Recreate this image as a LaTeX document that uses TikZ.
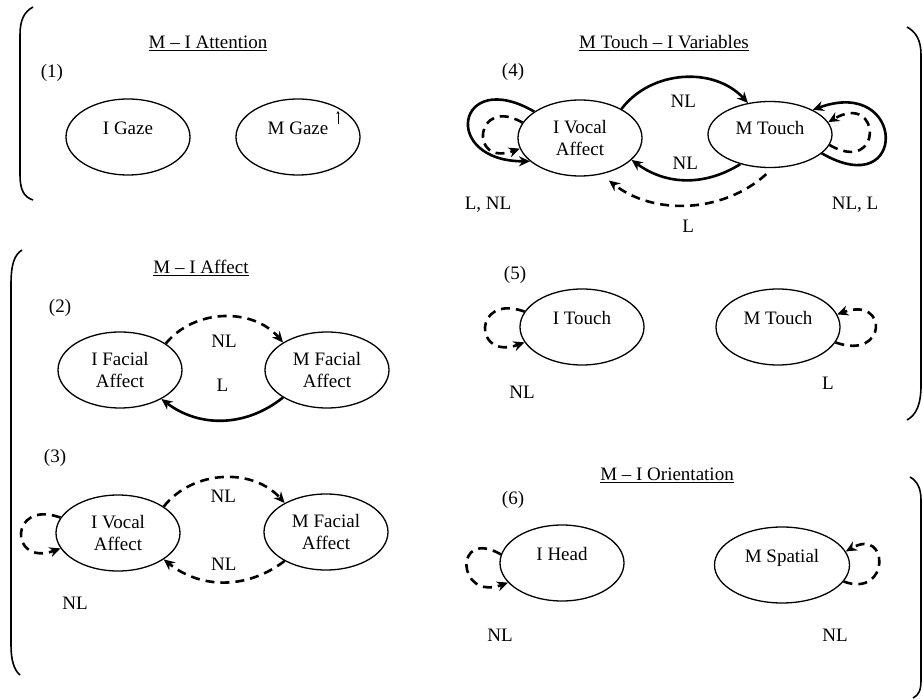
\documentclass[tikz,border=0pt]{standalone}
\usepackage{fontspec}
\setmainfont{Liberation Serif}
\usetikzlibrary{shapes.geometric,arrows.meta}

\begin{document}
\begin{tikzpicture}[x=1pt, y=1pt, font=\fontsize{19}{22}\selectfont,
        state/.style={ellipse, draw, line width=1.3pt, minimum width=124pt, minimum height=76pt, inner sep=0pt, align=center},
        one/.style={text depth=18pt},
        link/.style={line width=2.6pt, -{Stealth[length=11pt, width=10pt]}},
        dlink/.style={link, dash pattern=on 9pt off 6pt},
        brace/.style={line width=1.6pt}]
        \useasboundingbox (0,0) rectangle (923,-700);

        \draw[brace] (33,-7) .. controls (24,-12) and (20,-20) .. (20,-35) -- (20,-175) .. controls (20,-190) and (24,-197) .. (33,-200);
        \draw[brace] (907,-27) .. controls (916,-32) and (921,-40) .. (921,-55) -- (921,-385) .. controls (921,-405) and (916,-415) .. (907,-420);
        \draw[brace] (22,-250) .. controls (14,-255) and (11,-265) .. (11,-285) -- (11,-645) .. controls (11,-660) and (14,-670) .. (20,-675);
        \draw[brace] (910,-477) .. controls (917,-481) and (921,-488) .. (921,-500) -- (921,-680) .. controls (921,-690) and (919,-695) .. (913,-698);

        \node (attn) at (208,-43) {\underline{M -- I Attention}};
        \node (p1) at (52,-73) {(1)};
        \node[state, one] (igaze) at (128,-137) {I Gaze};
        \node[state, one] (mgaze) at (298,-137) {M Gaze};
        \draw[-{Stealth[length=3pt, width=3pt]}, line width=0.7pt] ([shift={(40,13)}]mgaze.center) -- ++(0,13);

        \node (touchvars) at (664,-43) {\underline{M Touch -- I Variables}};
        \node (p4) at (513,-72) {(4)};
        \node[state] (ivocA) at (580,-138) {I Vocal\\Affect};
        \node[state, one, minimum height=66pt, text depth=14pt] (mtouchA) at (770,-134.5) {M Touch};
        \draw[link] (ivocA.35) to[bend left=50] node[below=13pt] (nl4a) {NL} (mtouchA.125);
        \draw[link] (mtouchA.225) to[bend left=34] node[above=6pt] (nl4b) {NL} (ivocA.337);
        \draw[dlink, shorten <=9pt, shorten >=10pt] (mtouchA.275) to[bend left=40] node[below=12pt] (l4) {L} (ivocA.300);
        \draw[link] (ivocA.150) to[out=150, in=180, distance=90] (ivocA.205);
        \draw[dlink] (ivocA.165) to[out=150, in=200, distance=55] (ivocA.190);
        \draw[link] (mtouchA.340) to[out=330, in=20, distance=100] (mtouchA.30);
        \draw[dlink] (mtouchA.350) to[out=330, in=30, distance=62] (mtouchA.12);
        \node (lnl4) at (488,-205) {L, NL};
        \node (nll4) at (855,-205) {NL, L};

        \node (affect) at (201,-268) {\underline{M -- I Affect}};
        \node (p2) at (60,-308) {(2)};
        \node[state] (ifacial) at (120,-370) {I Facial\\Affect};
        \node[state] (mfacial) at (327,-370) {M Facial\\Affect};
        \draw[dlink] (ifacial.30) to[bend left=50] node[below=14pt] (nl2) {NL} (mfacial.148);
        \draw[link] (mfacial.212) to[bend left=38] node[above=24pt] (l2) {L} (ifacial.325);

        \node (p3) at (55,-458) {(3)};
        \node[state] (ivocB) at (118,-533) {I Vocal\\Affect};
        \node[state] (mfacialB) at (326,-532) {M Facial\\Affect};
        \draw[dlink] (ivocB.30) to[bend left=50] node[below=8pt] (nl3a) {NL} (mfacialB.145);
        \draw[dlink] (mfacialB.215) to[bend left=38] node[above=7pt] (nl3b) {NL} (ivocB.330);
        \draw[dlink] (ivocB.165) to[out=160, in=200, distance=55] (ivocB.195);
        \node (nl3c) at (75,-603) {NL};

        \node (p5) at (515,-275) {(5)};
        \node[state, one] (itouch) at (582,-327) {I Touch};
        \node[state, one] (mtouchB) at (778,-327) {M Touch};
        \draw[dlink] (itouch.165) to[out=160, in=200, distance=55] (itouch.195);
        \draw[dlink] (mtouchB.345) to[out=340, in=20, distance=55] (mtouchB.12);
        \node (nl5) at (522,-392) {NL};
        \node (l5) at (828,-383) {L};

        \node (orient) at (667,-475) {\underline{M -- I Orientation}};
        \node (p6) at (513,-500) {(6)};
        \node[state, one] (ihead) at (562,-563) {I Head};
        \node[state, one, minimum width=135pt] (mspatial) at (782,-565) {M Spatial};
        \draw[dlink] (ihead.172) to[out=150, in=200, distance=55] (ihead.200);
        \draw[dlink] (mspatial.345) to[out=340, in=30, distance=50] (mspatial.12);
        \node (nl6a) at (500,-635) {NL};
        \node (nl6b) at (835,-635) {NL};
    \end{tikzpicture}
\end{document}
